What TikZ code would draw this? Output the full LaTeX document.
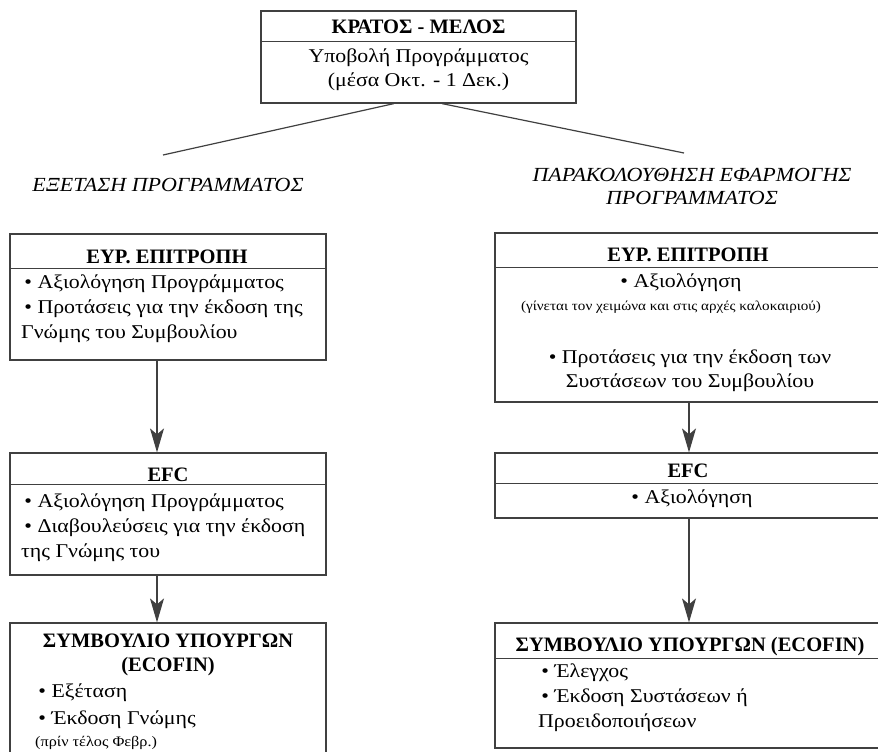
\documentclass[tikz,border=0pt]{standalone}
\usepackage{fontspec}
\setmainfont{Liberation Serif}
\newfontfamily\widefont{Liberation Serif}[FakeStretch=1.12]
\newfontfamily\labelfont{Liberation Serif}[FakeStretch=1.1]
\usetikzlibrary{arrows.meta, calc}

\tikzset{
  box/.style={draw=black!75, line width=1.2pt, inner sep=0pt},
  hdr/.style={font=\bfseries\fontsize{20.5}{24}\selectfont, align=center, inner sep=0pt},
  txt/.style={font=\widefont\fontsize{19.5}{25}\selectfont, align=left, inner sep=0pt},
  ctxt/.style={font=\widefont\fontsize{19.5}{24}\selectfont, align=center, inner sep=0pt},
  note/.style={font=\widefont\fontsize{13.5}{15}\selectfont, inner sep=0pt},
  lbl/.style={font=\labelfont\itshape\fontsize{20}{23}\selectfont, align=center, inner sep=0pt},
  sep/.style={draw=black!75, line width=1.2pt},
  link/.style={draw=black!75, line width=1.2pt},
  arr/.style={draw=black!75, line width=1.2pt, -{Stealth[length=24pt,width=14pt,inset=6pt]}},
}

\begin{document}
\begin{tikzpicture}[x=1pt, y=-1pt]
\useasboundingbox (0,0) rectangle (878,752);
%
\node[box, minimum width=315pt, minimum height=92pt](state) at (418.5,57) {};
\node[hdr](statehd) at (418.5,27) {ΚΡΑΤΟΣ - ΜΕΛΟΣ};
\draw[sep] ($(state.north west)+(0,31)$) -- ($(state.north east)+(0,31)$);
\node[ctxt](statebody) at (418.5,70) {Υποβολή Προγράμματος\\(μέσα Οκτ. - 1 Δεκ.)};
%
\node[lbl](exam) at (168,185) {ΕΞΕΤΑΣΗ ΠΡΟΓΡΑΜΜΑΤΟΣ};
\node[lbl](monitor) at (692,186.5) {ΠΑΡΑΚΟΛΟΥΘΗΣΗ ΕΦΑΡΜΟΓΗΣ\\ΠΡΟΓΡΑΜΜΑΤΟΣ};
\coordinate(examtop) at (163,155);
\coordinate(montop) at (684,153);
\draw[link]([xshift=-24.5pt]state.south) -- (examtop);
\draw[link]([xshift=23.5pt]state.south) -- (montop);
%
% left column
\node[box, minimum width=316pt, minimum height=126pt](comA) at (168,297) {};
\node[hdr](comAhd) at (167,257) {ΕΥΡ. ΕΠΙΤΡΟΠΗ};
\draw[sep] ($(comA.north west)+(0,35)$) -- ($(comA.north east)+(0,35)$);
\node[txt, anchor=west](comAbody) at (21,309) {\,• Αξιολόγηση Προγράμματος\\\,• Προτάσεις για την έκδοση της\\Γνώμης του Συμβουλίου};
%
\node[box, minimum width=316pt, minimum height=122pt](efcA) at (168,514) {};
\node[hdr](efcAhd) at (168,475) {EFC};
\draw[sep] ($(efcA.north west)+(0,32)$) -- ($(efcA.north east)+(0,32)$);
\node[txt, anchor=west](efcAbody) at (21,528) {\,• Αξιολόγηση Προγράμματος\\\,• Διαβουλεύσεις για την έκδοση\\της Γνώμης του};
\draw[arr]([xshift=-11pt]comA.south) -- ([xshift=-11pt]efcA.north);
%
\node[box, minimum width=316pt, minimum height=150pt](ecoA) at (168,698) {};
\node[hdr](ecoAhd) at (168,655) {ΣΥΜΒΟΥΛΙΟ ΥΠΟΥΡΓΩΝ\\(ECOFIN)};
\node[txt, anchor=west, font=\widefont\fontsize{19.5}{27}\selectfont](ecoAbody) at (35,706.5) {\,• Εξέταση\\\,• Έκδοση Γνώμης};
\node[note, anchor=west, font=\widefont\fontsize{14.5}{16}\selectfont](ecoAnote) at (35,743) {(πρίν τέλος Φεβρ.)};
\draw[arr]([xshift=-11pt]efcA.south) -- ([xshift=-11pt]ecoA.north);
%
% right column
\node[box, minimum width=386pt, minimum height=169pt](comB) at (688,317.5) {};
\node[hdr](comBhd) at (688,255) {ΕΥΡ. ΕΠΙΤΡΟΠΗ};
\draw[sep] ($(comB.north west)+(0,35)$) -- ($(comB.north east)+(0,35)$);
\node[ctxt](comBeval) at (681,283) {• Αξιολόγηση};
\node[note](comBnote) at (671,307) {(γίνεται τον χειμώνα και στις αρχές καλοκαιριού)};
\node[ctxt](comBprop) at (690,371) {• Προτάσεις για την έκδοση των\\Συστάσεων του Συμβουλίου};
%
\node[box, minimum width=386pt, minimum height=65pt](efcB) at (688,485.5) {};
\node[hdr](efcBhd) at (688,471) {EFC};
\draw[sep] ($(efcB.north west)+(0,31)$) -- ($(efcB.north east)+(0,31)$);
\node[ctxt](efcBbody) at (692,499) {• Αξιολόγηση};
\draw[arr]([xshift=1pt]comB.south) -- ([xshift=1pt]efcB.north);
%
\node[box, minimum width=386pt, minimum height=125pt](ecoB) at (688,685.5) {};
\node[hdr](ecoBhd) at (690,647) {ΣΥΜΒΟΥΛΙΟ ΥΠΟΥΡΓΩΝ (ECOFIN)};
\draw[sep] ($(ecoB.north west)+(0,36)$) -- ($(ecoB.north east)+(0,36)$);
\node[txt, anchor=west](ecoBbody) at (538,698) {\,• Έλεγχος\\\,• Έκδοση Συστάσεων ή\\Προειδοποιήσεων};
\draw[arr]([xshift=1pt]efcB.south) -- ([xshift=1pt]ecoB.north);
\end{tikzpicture}
\end{document}
